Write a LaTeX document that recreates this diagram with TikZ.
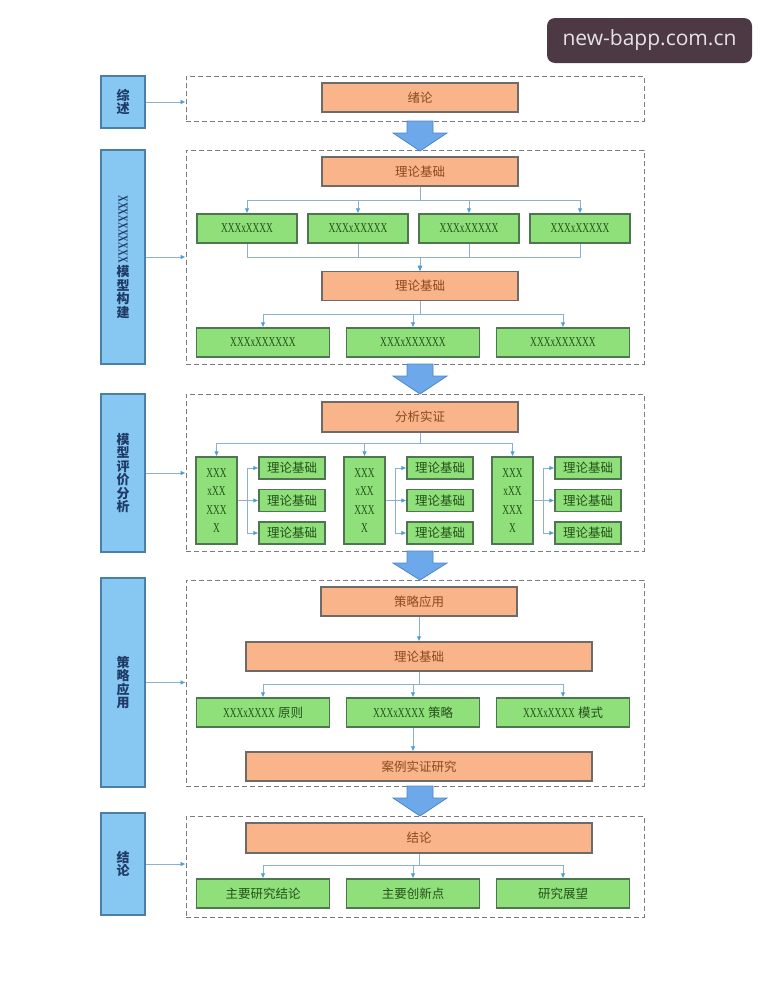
\documentclass[tikz,border=0pt]{standalone}
\usepackage{graphicx}
\usepackage{fontspec}
\setmainfont{Liberation Serif}
\newfontfamily\cjk{Noto Sans CJK SC}
\newfontfamily\wmfont{Open Sans}
\usetikzlibrary{arrows.meta}

\definecolor{lblblue}{HTML}{86C8F2}
\definecolor{lblborder}{HTML}{4A7FA8}
\definecolor{lbltext}{HTML}{1F3A66}
\definecolor{boxorange}{HTML}{F9B48A}
\definecolor{obdr}{HTML}{6E6A68}
\definecolor{otext}{HTML}{8B4A1C}
\definecolor{boxgreen}{HTML}{8FE07A}
\definecolor{gbdr}{HTML}{4E7650}
\definecolor{gtext}{HTML}{245019}
\definecolor{dashgray}{HTML}{7C7C7C}
\definecolor{linkblue}{HTML}{8DB0CF}
\definecolor{tipblue}{HTML}{4A9FD4}
\definecolor{arrowblue}{HTML}{6DA8EA}
\definecolor{arrowdark}{HTML}{4D86C6}
\definecolor{wmfill}{HTML}{4D3944}
\definecolor{wmtext}{HTML}{E6E2E3}

\newcommand{\zh}[1]{{\cjk\fontsize{12.5}{14}\selectfont #1}}
\newcommand{\lat}[1]{\scalebox{0.72}[1.05]{\rmfamily\fontsize{13}{15}\selectfont #1}}

\begin{document}
\begin{tikzpicture}[x=1pt, y=-1pt,
    >={Latex[length=5pt,width=4.5pt,color=tipblue]},
    stage/.style={draw=lblborder, line width=1.2pt, fill=lblblue, text=lbltext,
        minimum width=44pt, inner sep=0pt, align=center,
        font=\cjk\bfseries\fontsize{13}{13.5}\selectfont},
    panel/.style={draw=dashgray, line width=0.9pt, dash pattern=on 5pt off 3pt,
        minimum width=458pt, inner sep=0pt},
    obox/.style={draw=obdr, line width=1.2pt, fill=boxorange, text=otext,
        minimum height=29pt, inner sep=0pt, font=\cjk\fontsize{12.5}{14}\selectfont},
    gbox/.style={draw=gbdr, line width=1.2pt, fill=boxgreen, text=gtext,
        minimum height=29pt, inner sep=0pt, font=\fontsize{12}{14}\selectfont},
    conn/.style={draw=linkblue, line width=0.8pt, ->},
    bigarrow/.style={fill=arrowblue, draw=arrowdark, line width=0.8pt},
    wmbox/.style={fill=wmfill, text=wmtext, rounded corners=8pt, inner sep=0pt,
        font=\wmfont\fontsize{21}{24}\selectfont}
]
    \fill[white] (0,0) rectangle (769,1004);
    \useasboundingbox (0,0) rectangle (769,1004);

    \node[wmbox, minimum width=205pt, minimum height=45pt] (wm) at (649.5,40.5) {new-bapp.com.cn};

    % panels
    \node[panel, minimum height=45pt] (p1) at (415,98.5) {};
    \node[panel, minimum height=214pt] (p2) at (415,257) {};
    \node[panel, minimum height=157pt] (p3) at (415,472.5) {};
    \node[panel, minimum height=206pt] (p4) at (415,683) {};
    \node[panel, minimum height=101pt] (p5) at (415,866.5) {};

    % stages
    \node[stage, minimum height=52pt] (s1) at (123,102) {综\\述};
    \node[stage, minimum height=214pt] (s2) at (123,257)
        {\rotatebox{-90}{\lat{XXXXXXXXXX}}\\[2pt]模\\型\\构\\建};
    \node[stage, minimum height=158pt] (s3) at (123,473) {模\\型\\评\\价\\分\\析};
    \node[stage, minimum height=209pt] (s4) at (123,682.5) {策\\略\\应\\用};
    \node[stage, minimum height=102pt] (s5) at (123,864) {结\\论};

    \foreach \i in {1,...,5}
        \draw[conn] (s\i.east) -- (s\i.east -| p\i.west);

    \foreach \t/\b in {121/151, 364/394, 551/580, 786/816}
        \draw[bigarrow] (407,\t) -- (433,\t) -- (433,\t+12) -- (447,\t+12)
            -- (420,\b) -- (393,\t+12) -- (407,\t+12) -- cycle;

    % 1
    \node[obox, minimum width=196pt] (xl) at (420,97.5) {绪论};

    % 2
    \node[obox, minimum width=196pt] (lj1) at (420,171.5) {理论基础};
    \foreach \i/\x/\t in {1/247/XXXxXXXX, 2/358/XXXxXXXXX, 3/469/XXXxXXXXX, 4/580/XXXxXXXXX}
        \node[gbox, minimum width=100pt] (a\i) at (\x,228.5) {\lat{\t}};
    \node[obox, minimum width=196pt] (lj2) at (420,286) {理论基础};
    \foreach \i in {1,...,4} {
        \draw[conn] (lj1.south) -- ++(0,14) -| (a\i.north);
        \draw[conn] (a\i.south) -- ++(0,14) -| (lj2.north);
    }
    \foreach \i/\x in {1/263, 2/413, 3/563} {
        \node[gbox, minimum width=133pt] (b\i) at (\x,342.5) {\lat{XXXxXXXXXX}};
        \draw[conn] (lj2.south) -- ++(0,13.5) -| (b\i.north);
    }

    % 3
    \node[obox, minimum width=196pt, minimum height=30pt] (fx) at (420,417) {分析实证};
    \foreach \i/\x in {1/216.5, 2/364.5, 3/512.5} {
        \node[gbox, minimum width=41pt, minimum height=87pt, align=center,
            font=\fontsize{12}{18.4}\selectfont] (c\i) at (\x,500.5)
            {\lat{XXX}\\\lat{xXX}\\\lat{XXX}\\\lat{X}};
        \draw[conn] (fx.south) -- ++(0,11) -| (c\i.north);
        \foreach \j/\y in {1/468, 2/500.5, 3/533} {
            \node[gbox, minimum width=66pt, minimum height=22pt,
                font=\cjk\fontsize{12.5}{14}\selectfont] (c\i\j) at (\x+75.5,\y) {理论基础};
            \draw[conn] (c\i.east) -- ++(10,0) |- (c\i\j.west);
        }
    }

    % 4
    \node[obox, minimum width=196pt] (cl) at (419,601.5) {策略应用};
    \node[obox, minimum width=346pt] (lj3) at (419,656.5) {理论基础};
    \draw[conn] (cl) -- (lj3);
    \foreach \i/\x/\t in {1/263/原则, 2/413/策略, 3/563/模式} {
        \node[gbox, minimum width=133pt] (k\i) at (\x,712.5) {\lat{XXXxXXXX} \zh{\t}};
        \draw[conn] (lj3.south) -- ++(0,13) -| (k\i.north);
    }
    \node[obox, minimum width=346pt] (al) at (419,766.5) {案例实证研究};
    \draw[conn] (k2.south) -- (k2.south |- al.north);

    % 5
    \node[obox, minimum width=346pt, minimum height=30pt] (jl) at (419,838) {结论};
    \foreach \i/\x/\t in {1/263/主要研究结论, 2/413/主要创新点, 3/563/研究展望} {
        \node[gbox, minimum width=133pt, font=\cjk\fontsize{12.5}{14}\selectfont] (m\i) at (\x,893.5) {\t};
        \draw[conn] (jl.south) -- ++(0,12) -| (m\i.north);
    }
\end{tikzpicture}
\end{document}
